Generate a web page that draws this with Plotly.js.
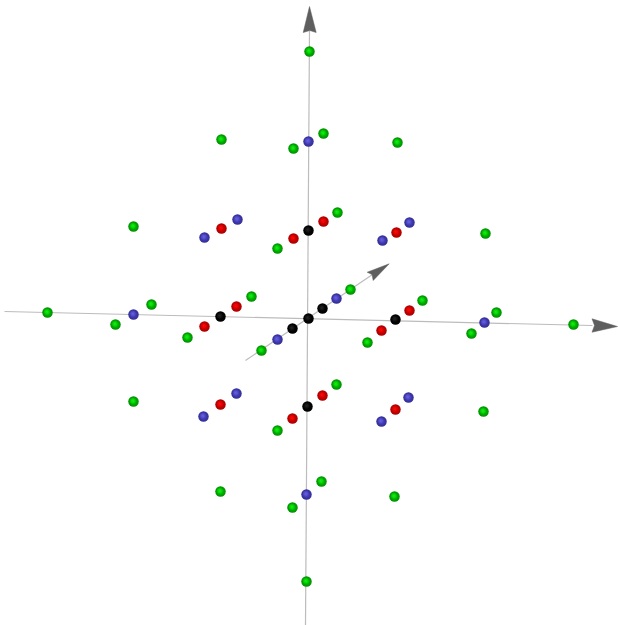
<!DOCTYPE html>
<html>
<head>
<meta charset="utf-8">
<script src="https://cdn.plot.ly/plotly-3.0.1.min.js"></script>
<style>
html, body { margin:0; padding:0; background:#fff; }
#chart { width:618px; height:625px; }
</style>
</head>
<body>
<div id="chart"></div>
<script>
// points (projected position, x right / y down)
const greenX = [309,221,293,323,397,133,277,337,485,47,115,151,187,251,261,350,367,422,471,496,573,133,277,336,483,220,292,321,394,306];
const greenY = [51,139,148,133,142,226,248,212,233,312,324,304,337,296,350,289,342,300,333,312,324,401,430,384,411,491,507,481,496,581];
const blueX = [308,204,237,382,409,133,277,336,484,203,236,381,408,306];
const blueY = [141,237,219,240,222,314,339,298,322,416,393,421,397,494];
const redX = [221,293,323,396,204,236,381,409,220,292,322,395];
const redY = [228,238,221,232,326,306,330,310,404,418,395,409];
const blackX = [308,220,292,308,322,395,307];
const blackY = [230,316,328,318,308,319,406];

// axis lines
const axisX = [[4,592],[309,305],[245,372]];
const axisY = [[311,325],[30,625],[360,274]];

// arrow heads: tip, barb, notch, barb
const headX = [[617,591.5,594,591.5,617],[309,302.7,309.3,315.7,309],[388.7,366.7,371.5,372.7,388.7]];
const headY = [[326,318.3,325,331.7,326],[6,32,30,32,6],[263.3,271.7,274,280,263.3]];

// sphere look: radial body plus a soft highlight a bit up and left
function balls(x, y, edge, body, shine, shineClear){
    return [{
    type:'scatter', mode:'markers', x, y, hoverinfo:'skip',
    marker:{ size:10.5, color:edge, line:{width:0}, gradient:{ type:'radial', color:body } }
    },{
    type:'scatter', mode:'markers', x:x.map(v=>v-0.8), y:y.map(v=>v-0.8), hoverinfo:'skip',
    marker:{ size:7, color:shineClear, line:{width:0}, gradient:{ type:'radial', color:shine } }
    }];
}

const traces = [];
axisX.forEach((x,i)=> traces.push({
    type:'scatter', mode:'lines', x, y:axisY[i], hoverinfo:'skip',
    line:{ color:'#bcbcbc', width:1.2 }
}));
headX.forEach((x,i)=> traces.push({
    type:'scatter', mode:'lines', x, y:headY[i], fill:'toself', fillcolor:'#5e5e5e', hoverinfo:'skip',
    line:{ color:'#5e5e5e', width:0.5 }
}));
traces.push(...balls(greenX, greenY, '#008c00', '#00d800', '#10f010', 'rgba(16,240,16,0)'));
traces.push(...balls(blueX, blueY, '#332e96', '#4c45c4', '#6660e6', 'rgba(102,96,230,0)'));
traces.push(...balls(redX, redY, '#a80000', '#e40000', '#ff0808', 'rgba(255,8,8,0)'));
traces.push(...balls(blackX, blackY, '#000000', '#060606', '#262626', 'rgba(38,38,38,0)'));

const layout = {
    width:618, height:625,
    margin:{ t:0, r:0, b:0, l:0 },
    showlegend:false,
    paper_bgcolor:'#ffffff', plot_bgcolor:'#ffffff',
    xaxis:{ range:[-0.5,617.5], visible:false, fixedrange:true },
    yaxis:{ range:[624.5,-0.5], visible:false, fixedrange:true }
};

Plotly.newPlot('chart', traces, layout, { displayModeBar:false, staticPlot:true });
</script>
</body>
</html>
